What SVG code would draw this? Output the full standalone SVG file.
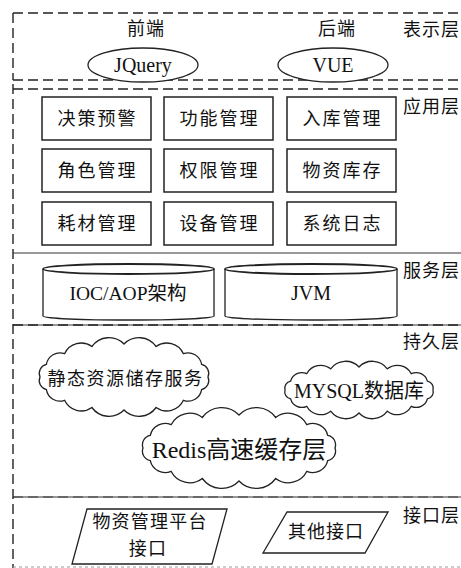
<svg xmlns="http://www.w3.org/2000/svg" width="461" height="568" viewBox="0 0 461 568">
<style>
text{font-family:"Liberation Serif","Times New Roman","DejaVu Serif","Noto Sans CJK SC",serif;fill:#111;}
.c{text-anchor:middle;}
.box{fill:#fff;stroke:#222;stroke-width:1.5;}
.shape{fill:#fff;stroke:#222;stroke-width:1.3;}
.dash{stroke:#222;stroke-width:1.4;stroke-dasharray:10 5;fill:none;}
.solid{stroke:#333;stroke-width:1;fill:none;}
.lbl{font-size:18px;letter-spacing:1px;}
.zh{font-size:18px;letter-spacing:2px;}
</style>
<rect width="461" height="568" fill="#fff"/>
<g id="layers">
  <line class="dash" x1="13" y1="13" x2="461" y2="13"/>
  <line class="dash" x1="13" y1="13" x2="13" y2="80"/>
  <line class="dash" x1="13" y1="80" x2="461" y2="80"/>
  <line class="dash" x1="13" y1="89" x2="461" y2="89"/>
  <line class="dash" x1="13" y1="84" x2="13" y2="568"/>
  <line class="solid" x1="13" y1="253" x2="461" y2="253"/>
  <line class="solid" x1="13" y1="325" x2="461" y2="325"/>
  <line class="dash" x1="13" y1="325" x2="461" y2="325"/>
  <line class="solid" x1="13" y1="497" x2="461" y2="497"/>
  <line class="dash" x1="13" y1="497" x2="461" y2="497" style="stroke-width:0.8"/>
  <line class="dash" x1="13" y1="567" x2="461" y2="567" style="stroke:#999;stroke-width:1;stroke-dasharray:3 3"/>
  <text class="lbl" x="403" y="36">表示层</text>
  <text class="lbl" x="403" y="113">应用层</text>
  <text class="lbl" x="403" y="277">服务层</text>
  <text class="lbl" x="403" y="348">持久层</text>
  <text class="lbl" x="403" y="522">接口层</text>
</g>
<g id="frontend">
  <text class="c" x="146" y="35" font-size="18" letter-spacing="1">前端</text>
  <ellipse class="shape" cx="143" cy="65" rx="55" ry="17"/>
  <text class="c" x="143" y="72" font-size="20" font-family="'Liberation Serif','Times New Roman',serif">JQuery</text>
</g>
<g id="backend">
  <text class="c" x="337" y="35" font-size="18" letter-spacing="1">后端</text>
  <ellipse class="shape" cx="333" cy="65" rx="55" ry="17"/>
  <text class="c" x="333" y="72" font-size="20" font-family="'Liberation Serif','Times New Roman',serif">VUE</text>
</g>
<g id="app-r1c1"><rect class="box" x="42" y="97" width="109" height="43"/><text class="c zh" x="97.5" y="125">决策预警</text></g>
<g id="app-r1c2"><rect class="box" x="164" y="97" width="109" height="43"/><text class="c zh" x="219.5" y="125">功能管理</text></g>
<g id="app-r1c3"><rect class="box" x="287" y="97" width="109" height="43"/><text class="c zh" x="342.5" y="125">入库管理</text></g>
<g id="app-r2c1"><rect class="box" x="42" y="149" width="109" height="43"/><text class="c zh" x="97.5" y="177">角色管理</text></g>
<g id="app-r2c2"><rect class="box" x="164" y="149" width="109" height="43"/><text class="c zh" x="219.5" y="177">权限管理</text></g>
<g id="app-r2c3"><rect class="box" x="287" y="149" width="109" height="43"/><text class="c zh" x="342.5" y="177">物资库存</text></g>
<g id="app-r3c1"><rect class="box" x="42" y="202" width="109" height="43"/><text class="c zh" x="97.5" y="230">耗材管理</text></g>
<g id="app-r3c2"><rect class="box" x="164" y="202" width="109" height="43"/><text class="c zh" x="219.5" y="230">设备管理</text></g>
<g id="app-r3c3"><rect class="box" x="287" y="202" width="109" height="43"/><text class="c zh" x="342.5" y="230">系统日志</text></g>
<g id="ioc-aop">
  <path class="shape" d="M43,269 L43,316 A85.5,4 0 0 0 214,316 L214,269"/>
  <ellipse class="shape" cx="128.5" cy="269" rx="85.5" ry="5" style="stroke-width:1.8"/>
  <text class="c" x="128" y="300" font-size="19.5">IOC/AOP架构</text>
</g>
<g id="jvm">
  <path class="shape" d="M225,269 L225,316 A86,4 0 0 0 397,316 L397,269"/>
  <ellipse class="shape" cx="311" cy="269" rx="86" ry="5" style="stroke-width:1.8"/>
  <text class="c" x="311" y="300" font-size="20">JVM</text>
</g>
<g id="static-storage">
  <path class="shape" d="M208,377 A9.2,9.2 0 0 1 201.6,389.6 A13.7,13.7 0 0 1 183.4,400.3 A18.3,18.3 0 0 1 156.1,407.5 A21,21 0 0 1 124,410 A21,21 0 0 1 91.9,407.5 A18.3,18.3 0 0 1 64.6,400.3 A13.7,13.7 0 0 1 46.4,389.6 A9.2,9.2 0 0 1 40,377 A9.2,9.2 0 0 1 46.4,364.4 A13.7,13.7 0 0 1 64.6,353.7 A18.3,18.3 0 0 1 91.9,346.5 A21,21 0 0 1 124,344 A21,21 0 0 1 156.1,346.5 A18.3,18.3 0 0 1 183.4,353.7 A13.7,13.7 0 0 1 201.6,364.4 A9.2,9.2 0 0 1 208,377 Z"/>
  <text class="c" x="125.5" y="385" font-size="18" letter-spacing="1.5">静态资源储存服务</text>
</g>
<g id="mysql">
  <path class="shape" d="M433,390 A7,7 0 0 1 427.4,398.8 A11.6,11.6 0 0 1 411.3,406.3 A16,16 0 0 1 387.3,411.2 A18.5,18.5 0 0 1 359,413 A18.5,18.5 0 0 1 330.7,411.2 A16,16 0 0 1 306.7,406.3 A11.6,11.6 0 0 1 290.6,398.8 A7,7 0 0 1 285,390 A7,7 0 0 1 290.6,381.2 A11.6,11.6 0 0 1 306.7,373.7 A16,16 0 0 1 330.7,368.8 A18.5,18.5 0 0 1 359,367 A18.5,18.5 0 0 1 387.3,368.8 A16,16 0 0 1 411.3,373.7 A11.6,11.6 0 0 1 427.4,381.2 A7,7 0 0 1 433,390 Z"/>
  <text class="c" x="359" y="398" font-size="20">MYSQL数据库</text>
</g>
<g id="redis">
  <path class="shape" d="M335,448 A9.5,9.5 0 0 1 327.7,460.6 A15.2,15.2 0 0 1 306.9,471.3 A20.8,20.8 0 0 1 275.7,478.5 A24,24 0 0 1 239,481 A24,24 0 0 1 202.3,478.5 A20.8,20.8 0 0 1 171.1,471.3 A15.2,15.2 0 0 1 150.3,460.6 A9.5,9.5 0 0 1 143,448 A9.5,9.5 0 0 1 150.3,435.4 A15.2,15.2 0 0 1 171.1,424.7 A20.8,20.8 0 0 1 202.3,417.5 A24,24 0 0 1 239,415 A24,24 0 0 1 275.7,417.5 A20.8,20.8 0 0 1 306.9,424.7 A15.2,15.2 0 0 1 327.7,435.4 A9.5,9.5 0 0 1 335,448 Z"/>
  <text class="c" x="239" y="458" font-size="24">Redis高速缓存层</text>
</g>
<g id="material-api">
  <polygon class="shape" points="87,509 227,509 212,564 72,564"/>
  <text class="c" x="150" y="528" font-size="18" letter-spacing="1.2">物资管理平台</text>
  <text class="c" x="148" y="555" font-size="18" letter-spacing="1.2">接口</text>
</g>
<g id="other-api">
  <polygon class="shape" points="287,512 388,512 365,553 263,553"/>
  <text class="c" x="326" y="538" font-size="18" letter-spacing="1">其他接口</text>
</g>
<g id="connectors"></g>
</svg>
